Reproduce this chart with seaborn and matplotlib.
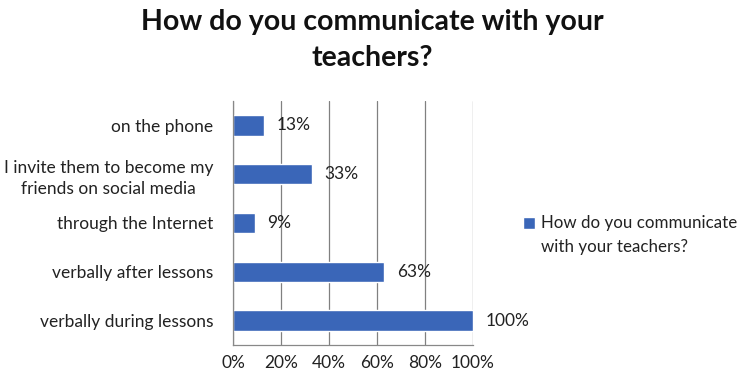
import matplotlib
matplotlib.use("Agg")
import matplotlib.pyplot as plt
import seaborn as sns
import pandas as pd
from matplotlib.ticker import FixedLocator

categories = [
    "on the phone",
    "I invite them to become my\nfriends on social media",
    "through the Internet",
    "verbally after lessons",
    "verbally during lessons",
]
values = [13, 33, 9, 63, 100]
series_name = "How do you communicate with your teachers?"
legend_label = "How do you communicate\nwith your teachers?"
x_ticks = [0, 20, 40, 60, 80, 100]
x_tick_labels = ["0%", "20%", "40%", "60%", "80%", "100%"]

sns.set_theme(style="white")
plt.rcParams["font.family"] = ["Lato", "DejaVu Sans"]

df = pd.DataFrame({"category": categories, "value": values})

fig = plt.figure(figsize=(7.45, 3.77), dpi=100)
ax = fig.add_axes([233 / 745, 1 - 345 / 377, 240 / 745, 244 / 377])

bar_color = "#3A66B8"
sns.barplot(data=df, x="value", y="category", orient="h", color=bar_color,
            width=0.42, saturation=1, ax=ax, label=series_name)

handles, _ = ax.get_legend_handles_labels()
if ax.get_legend() is not None:
    ax.get_legend().remove()

ax.set_xlim(0, 100)
ax.set_ylim(len(categories) - 0.5, -0.5)
ax.set_xlabel("")
ax.set_ylabel("")

tick_fs = 12.5
ax.set_xticks(x_ticks)
ax.set_xticklabels(x_tick_labels, fontsize=tick_fs, color="#222222")
ax.tick_params(axis="x", length=4, width=0.8, color="#888888", direction="out", pad=3)
ax.tick_params(axis="y", which="major", length=0, labelsize=tick_fs, labelcolor="#222222", pad=14)
for lbl in ax.get_yticklabels():
    lbl.set_linespacing(1.4)
    lbl.set_multialignment("center")
ax.yaxis.set_minor_locator(FixedLocator([i - 0.5 for i in range(len(categories) + 1)]))
ax.tick_params(axis="y", which="minor", length=4, width=0.8, color="#888888", direction="out")

ax.grid(axis="x", color="#808080", linewidth=0.9)
ax.set_axisbelow(True)
for side in ["top", "right"]:
    ax.spines[side].set_visible(False)
for side in ["left", "bottom"]:
    ax.spines[side].set_color("#888888")
    ax.spines[side].set_linewidth(0.9)

for i, v in enumerate(values):
    ax.annotate(f"{v}%", xy=(v, i), xytext=(9, 0), textcoords="offset points",
                va="center", ha="left", fontsize=tick_fs, color="#222222",
                annotation_clip=False)

fig.text(372 / 745, 1 - 40 / 377, "How do you communicate with your\nteachers?",
         ha="center", va="center", fontsize=20.5, fontweight="bold",
         color="#111111", linespacing=1.45)

leg = fig.legend(handles[:1], [legend_label],
                 loc="center left", bbox_to_anchor=(523 / 745, 1 - 235 / 377),
                 frameon=False, fontsize=12.2, handlelength=0.7, handleheight=0.7,
                 handletextpad=0.35, labelcolor="#222222", borderpad=0, borderaxespad=0)
for t in leg.get_texts():
    t.set_linespacing(1.6)
# keep the colour key level with the first line of the label
key = leg.legend_handles[0]
key.set_y(key.get_y() + 9)

fig.savefig("out.png", dpi=100)
